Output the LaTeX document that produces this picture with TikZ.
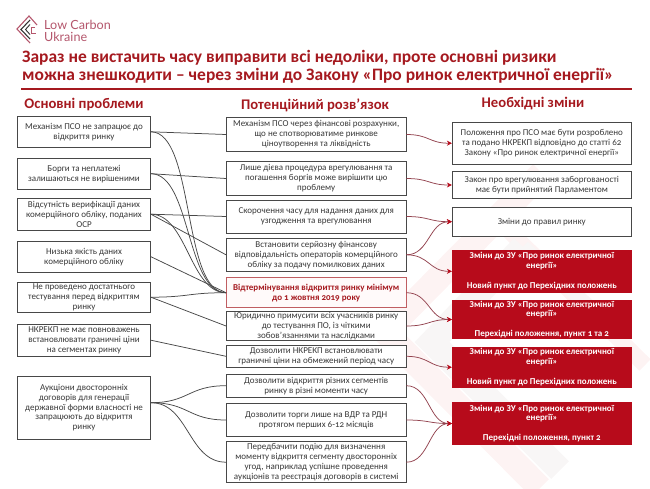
\documentclass[tikz,border=0pt]{standalone}
\usepackage{fontspec}
\setmainfont[Numbers=OldStyle]{Carlito}
\newfontfamily\logofont{Lato}
\usetikzlibrary{arrows.meta}
\definecolor{lcured}{HTML}{A5191F}
\definecolor{boxred}{HTML}{B70B1B}
\definecolor{boxline}{HTML}{484848}
\definecolor{linkred}{HTML}{93434F}
\definecolor{logored}{HTML}{B4566C}
\definecolor{markpink}{HTML}{FDF3F3}
\definecolor{markgrey}{HTML}{F8F6F6}
\tikzset{
  headtext/.style={font=\bfseries\fontsize{14.7}{17}\selectfont,text=lcured,inner sep=0pt},
  plainbox/.style={draw=boxline,line width=.8pt,fill=white,align=center,inner sep=0pt,text=black!78,font=\fontsize{9}{9.9}\selectfont},
  probbox/.style={plainbox,minimum width=133pt},
  fixbox/.style={plainbox,minimum width=179.5pt},
  changebox/.style={plainbox,minimum width=179pt},
  lawbox/.style={changebox,draw=boxred,fill=boxred,text=white,font=\bfseries\fontsize{9}{9.9}\selectfont},
  link/.style={draw=boxline,line width=.75pt},
  redlink/.style={draw=linkred,line width=.75pt,-{Stealth[length=5pt,width=5pt,color=boxred]}},
}
\begin{document}
\begin{tikzpicture}[x=1pt,y=-1pt]
\useasboundingbox (0,0) rectangle (650,488);
\draw[markpink,line width=25pt] (542,173)--(385,332)--(540,488);
\draw[markpink,line width=16pt] (497,219)--(645,365);
\draw[markgrey,line width=25pt] (523,247)--(432,342)--(560,470);
\draw[markgrey,line width=14pt] (523,247)--(602,318);
% logo
\draw[logored,line width=1.1pt] (37,25)--(29,16)--(17,29)--(30,43);
\draw[black!80,line width=1.1pt] (30,20)--(21,29.5)--(30,39);
\draw[black!80,line width=.9pt] (30,24.5)--(25.5,29.5)--(30,34.5);
\draw[logored,line width=.9pt] (35,27)--(31,27)--(31,33)--(36,33);
\node[anchor=base west,inner sep=0pt,font=\logofont\fontsize{12.6}{15}\selectfont,text=logored] (logoa) at (44,29) {Low Carbon};
\node[anchor=base west,inner sep=0pt,font=\logofont\fontsize{12.6}{15}\selectfont,text=logored] (logob) at (44,41) {Ukraine};
% title
\node[anchor=base west,inner sep=0pt,font=\bfseries\fontsize{17.45}{20}\selectfont,text=lcured] (titlea) at (22,62) {Зараз не вистачить часу виправити всі недоліки, проте основні ризики};
\node[anchor=base west,inner sep=0pt,font=\bfseries\fontsize{17.45}{20}\selectfont,text=lcured] (titleb) at (22,80) {можна знешкодити -- через зміни до Закону «Про ринок електричної енергії»};
\draw[lcured,line width=1.6pt] (21,89)--(632,89);
\node[headtext] (headl) at (84,104) {Основні проблеми};
\node[headtext] (headc) at (315,105) {Потенційний розв’язок};
\node[headtext] (headr) at (533,104) {Необхідні зміни};
% problems
\node[probbox,minimum height=30.5pt] (L1) at (84,131.8) {Механізм ПСО не запрацює до\\відкриття ринку};
\node[probbox,minimum height=31.5pt] (L2) at (84,173.7) {Борги та неплатежі\\залишаються не вирішеними};
\node[probbox,minimum height=31.5pt] (L3) at (84,214.2) {Відсутність верифікації даних\\комерційного обліку, поданих\\ОСР};
\node[probbox,minimum height=30.5pt] (L4) at (84,256.7) {Низька якість даних\\комерційного обліку};
\node[probbox,minimum height=30.5pt] (L5) at (84,297.2) {Не проведено достатнього\\тестування перед відкриттям\\ринку};
\node[probbox,minimum height=31.5pt] (L6) at (84,340.2) {НКРЕКП не має повноважень\\встановлювати граничні ціни\\на сегментах ринку};
\node[probbox,minimum height=62.5pt] (L7) at (84,407.7) {Аукціони двосторонніх\\договорів для генерації\\державної форми власності не\\запрацюють до відкриття\\ринку};
% solutions
\node[fixbox,minimum height=34pt] (C1) at (316.2,134.5) {Механізм ПСО через фінансові розрахунки,\\що не спотворюватиме ринкове\\ціноутворення та ліквідність};
\node[fixbox,minimum height=34pt] (C2) at (316.2,178.5) {Лише дієва процедура врегулювання та\\погашення боргів може вирішити цю\\проблему};
\node[fixbox,minimum height=33pt] (C3) at (316.2,216.5) {Скорочення часу для надання даних для\\узгодження та врегулювання};
\node[fixbox,minimum height=32.3pt] (C4) at (316.2,254.8) {Встановити серйозну фінансову\\відповідальність операторів комерційного\\обліку за подачу помилкових даних};
\node[fixbox,minimum height=30pt,draw=lcured!70!white,fill=red!2!white,text=lcured,font=\bfseries\fontsize{9}{9.9}\selectfont] (C5) at (316.2,292.7) {Відтермінування відкриття ринку мінімум\\до 1 жовтня 2019 року};
\node[fixbox,minimum height=28.6pt] (C6) at (316.2,326) {Юридично примусити всіх учасників ринку\\до тестування ПО, із чіткими\\зобов’язаннями та наслідками};
\node[fixbox,minimum height=22.7pt] (C7) at (316.2,356.3) {Дозволити НКРЕКП встановлювати\\граничні ціни на обмежений період часу};
\node[fixbox,minimum height=22.7pt] (C8) at (316.2,385.7) {Дозволити відкриття різних сегментів\\ринку в різні моменти часу};
\node[fixbox,minimum height=32.6pt] (C9) at (316.2,420) {Дозволити торги лише на ВДР та РДН\\протягом перших 6-12 місяців};
\node[fixbox,minimum height=41pt] (C10) at (316.2,462.2) {Передбачити подію для визначення\\моменту відкриття сегменту двосторонніх\\угод, наприклад успішне проведення\\аукціонів та реєстрація договорів в системі};
% changes
\node[changebox,minimum height=41.7pt] (R1) at (541.8,143.2) {Положення про ПСО має бути розроблено\\та подано НКРЕКП відповідно до статті 62\\Закону «Про ринок електричної енергії»};
\node[changebox,minimum height=27.4pt] (R2) at (541.8,185) {Закон про врегулювання заборгованості\\має бути прийнятий Парламентом};
\node[changebox,minimum height=28.7pt] (R3) at (541.8,221.7) {Зміни до правил ринку};
\node[lawbox,minimum height=41.3pt] (R4) at (541.8,271.3) {Зміни до ЗУ «Про ринок електричної\\енергії»\\[9.9pt]Новий пункт до Перехідних положень};
\node[lawbox,minimum height=38.4pt] (R5) at (541.8,319.5) {Зміни до ЗУ «Про ринок електричної\\енергії»\\[9.9pt]Перехідні положення, пункт 1 та 2};
\node[lawbox,minimum height=40.3pt] (R6) at (541.8,367.2) {Зміни до ЗУ «Про ринок електричної\\енергії»\\[9.9pt]Новий пункт до Перехідних положень};
\node[lawbox,minimum height=41.6pt] (R7) at (541.8,423.5) {Зміни до ЗУ «Про ринок електричної\\енергії»\\[9.9pt]Перехідні положення, пункт 2};
% connectors
\foreach\a/\b in {L1/C1,L2/C2,L3/C3,L3/C4,L4/C5,L5/C6,L6/C7}{
    \draw[link] (\a.east)--(\b.west);
}
\foreach\a/\k in {L1/44,L2/40,L3/36,L5/38}{
    \draw[link] (\a.east) .. controls +(\k,0) and +(-\k,0) .. (C5.west);
}
\foreach\b in {C8,C9,C10}{
    \draw[link] ([yshift=5pt]L7.east) .. controls +(38,0) and +(-38,0) .. (\b.west);
}
\foreach\a/\b in {C1/R1,C2/R2,C3/R3,C4/R3,C4/R4,C5/R5,C6/R5,C7/R6,C8/R7,C9/R7,C10/R7}{
    \draw[redlink] (\a.east) .. controls +(23,0) and +(-23,0) .. (\b.west);
}
\end{tikzpicture}
\end{document}
